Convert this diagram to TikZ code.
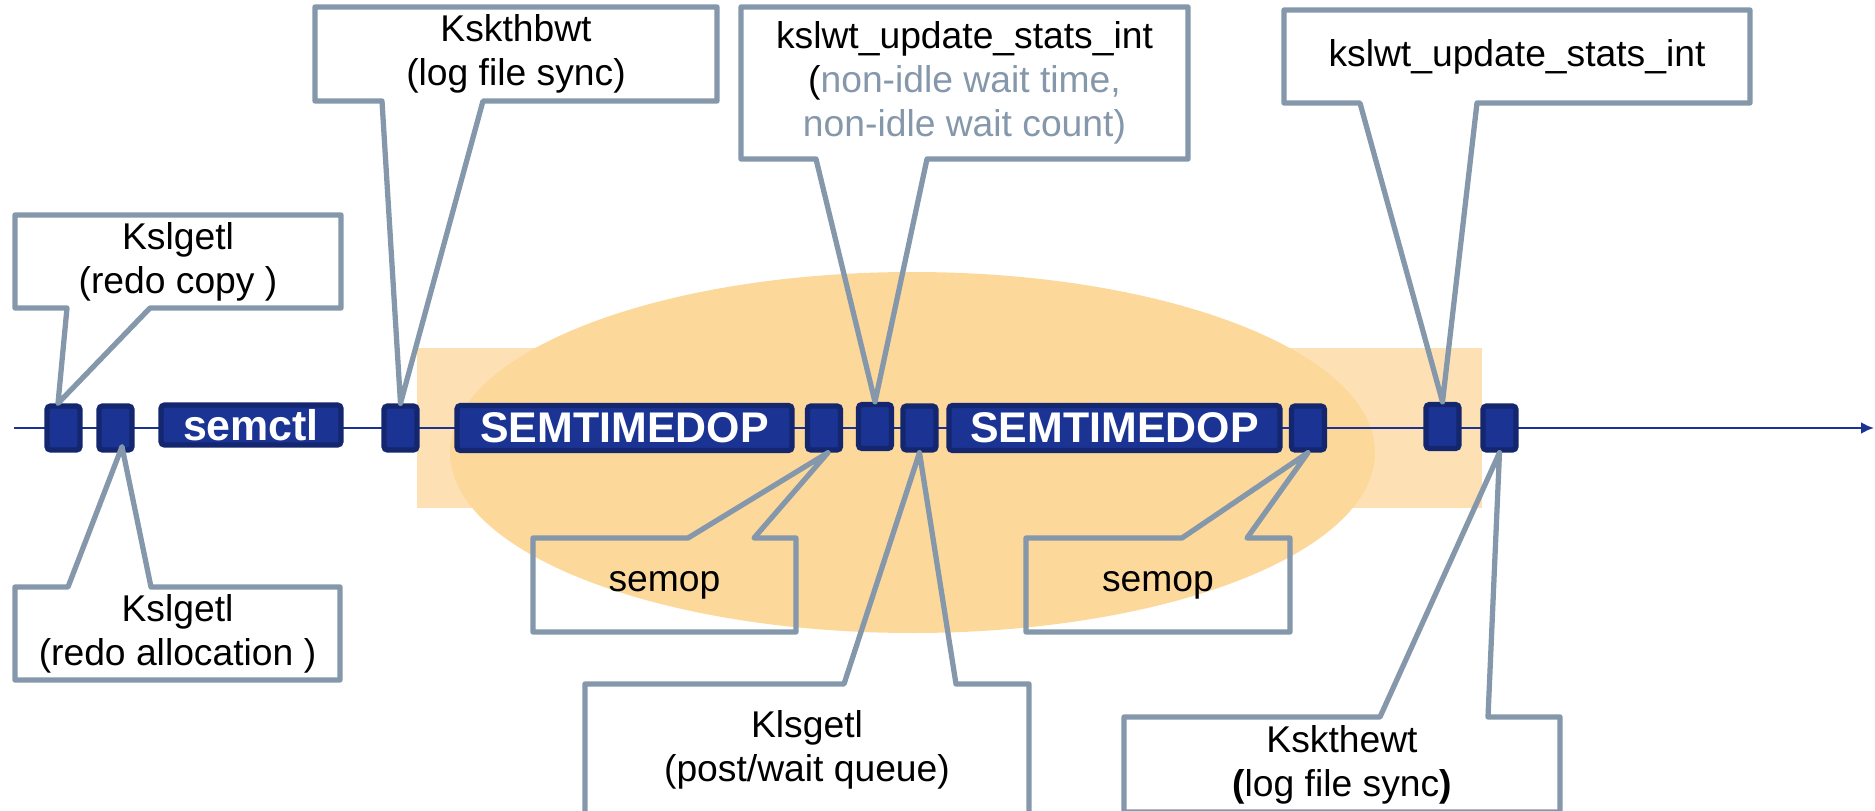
\documentclass[tikz,border=0pt]{standalone}
\usepackage{fontspec}
\setmainfont{Liberation Sans}
\usetikzlibrary{arrows.meta,positioning,calc}
\definecolor{tlblue}{RGB}{27,52,148}
\definecolor{tldark}{RGB}{19,38,110}
\definecolor{callgray}{RGB}{133,151,170}
\definecolor{ovalorange}{RGB}{253,216,155}
\definecolor{bandorange}{RGB}{253,225,181}
\tikzset{
  callsq/.style={
    draw=tldark,
    fill=tlblue,
    line width=1.5pt,
    rounded corners=1pt,
    minimum width=3.3mm,
    minimum height=4.4mm,
    inner sep=0pt
  },
  callblock/.style={
    draw=tldark,
    fill=tlblue,
    line width=1.5pt,
    rounded corners=1pt,
    minimum height=4.5mm,
    inner sep=0pt,
    text=white,
    font=\fontsize{12.2}{14}\selectfont\bfseries
  },
  note/.style={
    align=center,
    inner sep=0pt,
    outer sep=0pt,
    font=\fontsize{10.6}{12.5}\selectfont
  },
  balloon/.style={draw=callgray,line width=1.5pt,line join=round},
  tline/.style={-{Latex[length=1.3mm,width=1.2mm]},line width=0.7pt,tlblue}
}

\begin{document}
\begin{tikzpicture}
  \useasboundingbox (0,0) rectangle (18.75,8.10);
  \clip (0,0) rectangle (18.75,8.10);

  % waiting region
  \fill[bandorange] (4.17,3.02) rectangle (14.82,4.62);
  \fill[ovalorange] (9.125,3.575) ellipse [x radius=4.625, y radius=1.805];

  % time axis
  \coordinate (tstart) at (0.14,3.82);
  \coordinate (tend) at (18.74,3.82);
  \draw[tline] (tstart) -- (tend);

  % calls on the axis
  \node[callsq] (sq1) at (0.635,3.82) {};
  \node[callsq] (sq2) at (1.155,3.82) {};
  \node[callblock,minimum width=18.0mm,minimum height=4.0mm] (semctl) at (2.51,3.85) {semctl};
  \node[callsq] (sq3) at (4.005,3.82) {};
  \node[callblock,minimum width=33.5mm] (sdop1) at (6.245,3.82) {SEMTIMEDOP};
  \node[callsq] (sq4) at (8.24,3.82) {};
  \node[callsq] (sq5) at (8.75,3.835) {};
  \node[callsq] (sq6) at (9.195,3.82) {};
  \node[callblock,minimum width=33.1mm] (sdop2) at (11.145,3.82) {SEMTIMEDOP};
  \node[callsq] (sq7) at (13.08,3.82) {};
  \node[callsq] (sq8) at (14.425,3.835) {};
  \node[callsq] (sq9) at (14.995,3.82) {};

  % notes above the axis
  \node[note,minimum width=32.6mm,minimum height=9.3mm] (kcopy) at (1.78,5.485)
    {Kslgetl\\(redo copy )};
  \node[note,minimum width=40.2mm,minimum height=9.4mm] (kbwt) at (5.16,7.56)
    {Kskthbwt\\(log file sync)};
  \node[note,minimum width=44.7mm,minimum height=15.2mm] (kupd1) at (9.645,7.27)
    {kslwt\_update\_stats\_int\\(\textcolor{callgray}{non-idle wait time,}\\\textcolor{callgray}{non-idle wait count)}};
  \node[note,minimum width=46.6mm,minimum height=9.3mm] (kupd2) at (15.17,7.535)
    {kslwt\_update\_stats\_int};

  % notes below the axis
  \node[note,minimum width=32.5mm,minimum height=9.3mm] (kalloc) at (1.775,1.765)
    {Kslgetl\\(redo allocation )};
  \node[note,minimum width=26.3mm,minimum height=9.4mm] (semop1) at (6.645,2.25) {semop};
  \node[note,minimum width=26.4mm,minimum height=9.4mm] (semop2) at (11.58,2.25) {semop};
  \node[note,minimum width=44.4mm,minimum height=13.2mm] (kpw) at (8.07,0.60)
    {Klsgetl\\(post/wait queue)};
  \node[note,minimum width=43.6mm,minimum height=9.5mm] (kewt) at (13.42,0.455)
    {Kskthewt\\\textbf{(}log file sync\textbf{)}};

  % balloons
  \draw[balloon] (kcopy.north west) -- (kcopy.north east) -- (kcopy.south east)
    -- (kcopy.south -| 1.50,0) -- ([xshift=-0.55mm]sq1.north) -- (kcopy.south -| 0.67,0)
    -- (kcopy.south west) -- cycle;
  \draw[balloon] (kbwt.north west) -- (kbwt.north east) -- (kbwt.south east)
    -- (kbwt.south -| 4.83,0) -- (sq3.north) -- (kbwt.south -| 3.82,0)
    -- (kbwt.south west) -- cycle;
  \draw[balloon] (kupd1.north west) -- (kupd1.north east) -- (kupd1.south east)
    -- (kupd1.south -| 9.27,0) -- (sq5.north) -- (kupd1.south -| 8.16,0)
    -- (kupd1.south west) -- cycle;
  \draw[balloon] (kupd2.north west) -- (kupd2.north east) -- (kupd2.south east)
    -- (kupd2.south -| 14.77,0) -- (sq8.north) -- (kupd2.south -| 13.60,0)
    -- (kupd2.south west) -- cycle;
  \draw[balloon] (kalloc.south west) -- (kalloc.north west)
    -- (kalloc.north -| 0.68,0) -- ([xshift=0.65mm,yshift=0.6mm]sq2.south) -- (kalloc.north -| 1.51,0)
    -- (kalloc.north east) -- (kalloc.south east) -- cycle;
  \draw[balloon] (semop1.south west) -- (semop1.north west)
    -- (semop1.north -| 6.88,0) -- ([xshift=0.4mm]sq4.south) -- (semop1.north -| 7.54,0)
    -- (semop1.north east) -- (semop1.south east) -- cycle;
  \draw[balloon] (semop2.south west) -- (semop2.north west)
    -- (semop2.north -| 11.82,0) -- (sq7.south) -- (semop2.north -| 12.47,0)
    -- (semop2.north east) -- (semop2.south east) -- cycle;
  \draw[balloon] (kpw.south west) -- (kpw.north west)
    -- (kpw.north -| 8.44,0) -- (sq6.south) -- (kpw.north -| 9.56,0)
    -- (kpw.north east) -- (kpw.south east) -- cycle;
  \draw[balloon] (kewt.south west) -- (kewt.north west)
    -- (kewt.north -| 13.80,0) -- (sq9.south) -- (kewt.north -| 14.88,0)
    -- (kewt.north east) -- (kewt.south east) -- cycle;
\end{tikzpicture}
\end{document}
